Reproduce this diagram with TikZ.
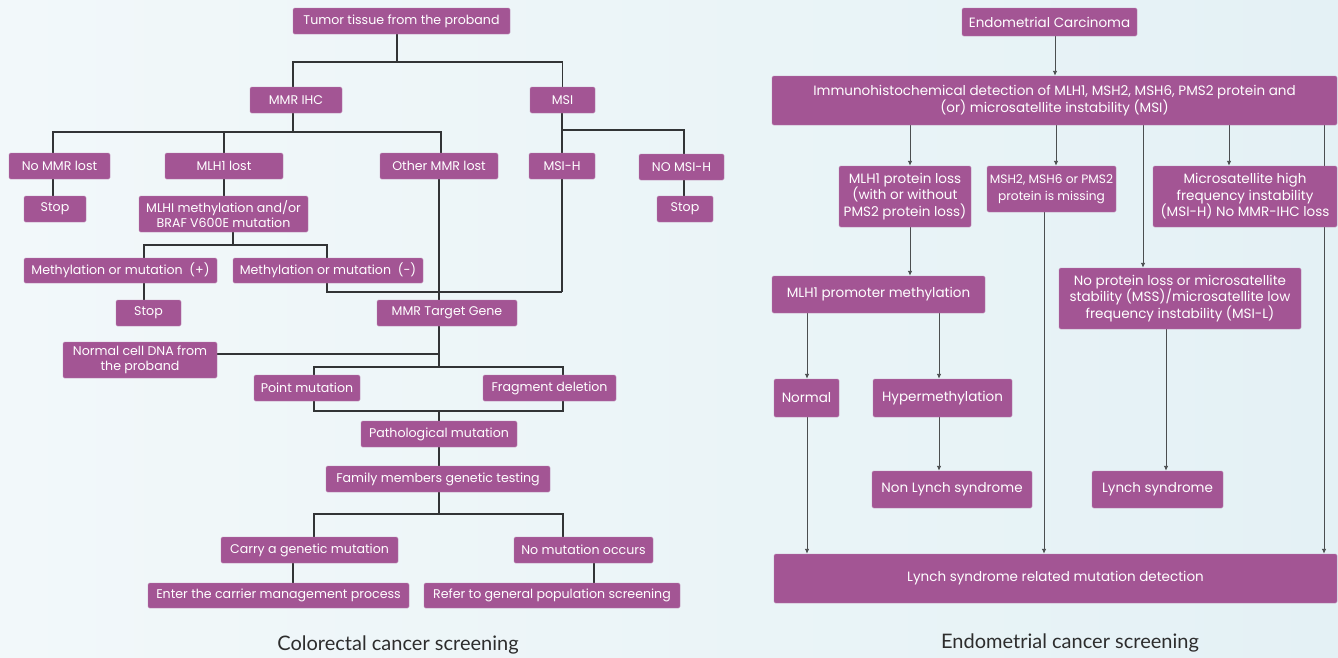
\documentclass[tikz,border=0pt]{standalone}
\usepackage{fontspec}
\setmainfont{Poppins}
\newfontfamily\capfont{Lato}
\usetikzlibrary{arrows.meta}
\definecolor{boxc}{RGB}{163,85,148}
\definecolor{lnc}{RGB}{50,52,54}
\definecolor{arc}{RGB}{75,78,80}
\definecolor{bga}{RGB}{242,248,250}
\definecolor{bgb}{RGB}{228,241,245}
\definecolor{capc}{RGB}{45,45,45}
\pgfdeclarelayer{back}
\pgfdeclarelayer{lines}
\pgfsetlayers{back,lines,main}
\newcommand{\mkbox}[7][box]{\node[#1,minimum width=#5pt,minimum height=#6pt] (#2) at (#3,#4) {#7};}
\begin{document}
\begin{tikzpicture}[x=1pt,y=-1pt,
  box/.style={fill=boxc, draw=boxc!75!white, line width=0.4pt, rounded corners=1.5pt, text=white, inner sep=1pt, align=center, font=\fontsize{12.6}{15}\selectfont},
  rbox/.style={box, font=\fontsize{13.5}{16.5}\selectfont},
  ln/.style={draw=lnc, line width=1.3pt},
  ar/.style={draw=arc, line width=0.9pt, -{Latex[length=5pt,width=4.5pt]}},
  captxt/.style={font=\capfont\fontsize{20}{23}\selectfont, text=capc}]
\useasboundingbox (0,0) rectangle (1338,657);
\begin{pgfonlayer}{back}
\shade[left color=bga, right color=bgb] (0,0) rectangle (1338,657);
\end{pgfonlayer}
% ---------- left: colorectal ----------
\mkbox{tumor}{401.5}{21}{217}{26}{Tumor tissue from the proband}
\mkbox{mmr}{296}{100}{92}{26}{MMR IHC}
\mkbox{msi}{562.5}{100}{65}{26}{MSI}
\mkbox{nommr}{59.5}{166}{101}{26}{No MMR lost}
\mkbox{mlh1}{224}{166}{118}{26}{MLH1 lost}
\mkbox{other}{439}{166}{118}{26}{Other MMR lost}
\mkbox{msih}{562}{166}{66}{26}{MSI-H}
\mkbox{nomsih}{681.5}{167}{85}{26}{NO MSI-H}
\mkbox{stop1}{55}{209}{62}{26}{Stop}
\mkbox{stop2}{685}{209}{56}{26}{Stop}
\mkbox{mlhi}{223.5}{214}{169}{36}{MLHI methylation and/or\\BRAF V600E mutation}
\mkbox{methp}{120.5}{270.5}{193}{25}{Methylation or mutation\ \ (+)}
\mkbox{methm}{328}{270.5}{190}{25}{Methylation or mutation\ \ (-)}
\mkbox{stop3}{148.5}{313}{65}{26}{Stop}
\mkbox{target}{447}{313}{140}{26}{MMR Target Gene}
\mkbox{normal}{140}{360}{154}{36}{Normal cell DNA from\\the proband}
\mkbox{point}{307}{388}{106}{26}{Point mutation}
\mkbox{frag}{549.5}{388}{133}{26}{Fragment deletion}
\mkbox{patho}{439}{434}{156}{26}{Pathological mutation}
\mkbox{family}{438}{479}{224}{26}{Family members genetic testing}
\mkbox{carry}{309.5}{550}{177}{26}{Carry a genetic mutation}
\mkbox{nomut}{583.5}{550}{139}{26}{No mutation occurs}
\mkbox{enter}{278.5}{595.5}{261}{25}{Enter the carrier management process}
\mkbox{refer}{552}{595.5}{256}{25}{Refer to general population screening}
\node[captxt] (cap1) at (398,645) {Colorectal cancer screening};
% ---------- right: endometrial ----------
\mkbox[rbox]{ec}{1049.5}{22}{175}{28}{Endometrial Carcinoma}
\mkbox[rbox]{imm}{1054.5}{100.5}{565}{49}{Immunohistochemical detection of MLH1, MSH2, MSH6, PMS2 protein and\\(or) microsatellite instability (MSI)}
\mkbox[rbox]{mlhp}{905}{196.5}{132}{61}{MLH1 protein loss\\(with or without\\PMS2 protein loss)}
\mkbox[rbox]{msh2}{1051.5}{189}{129}{46}{\fontsize{12.2}{15}\selectfont MSH2, MSH6 or PMS2\\\fontsize{12.2}{15}\selectfont protein is missing}
\mkbox[rbox]{msih2}{1245}{196.5}{184}{61}{Microsatellite high\\frequency instability\\(MSI-H) No MMR-IHC loss}
\mkbox[rbox]{promo}{878.5}{294.5}{213}{37}{MLH1 promoter methylation}
\mkbox[rbox]{noprot}{1180}{298.5}{242}{61}{No protein loss or microsatellite\\stability (MSS)/microsatellite low\\frequency instability (MSI-L)}
\mkbox[rbox]{normal2}{806.5}{398}{65}{38}{Normal}
\mkbox[rbox]{hyper}{942.5}{398}{139}{38}{Hypermethylation}
\mkbox[rbox]{nonly}{952}{489.5}{160}{37}{Non Lynch syndrome}
\mkbox[rbox]{lynch}{1157.5}{489.5}{131}{37}{Lynch syndrome}
\mkbox[rbox]{lrel}{1055.5}{578.5}{563}{49}{Lynch syndrome related mutation detection}
\node[captxt] (cap2) at (1070,643) {Endometrial cancer screening};
% ---------- junction coordinates ----------
\coordinate (j1) at (397,62);
\coordinate (j2) at (293,132);
\coordinate (j2l) at (53,132);
\coordinate (j2m) at (224,132);
\coordinate (j2r) at (441,132);
\coordinate (j3) at (562,130);
\coordinate (j3r) at (684,130);
\coordinate (j4) at (233,245);
\coordinate (j4l) at (144,245);
\coordinate (j4r) at (327,245);
\coordinate (j5) at (562,292);
\coordinate (xo) at (439,0);
\coordinate (j6) at (439,367);
\coordinate (j6n) at (439,354);
\coordinate (j6l) at (314,367);
\coordinate (j6r) at (563,367);
\coordinate (j7) at (439,411);
\coordinate (j7l) at (314,411);
\coordinate (j7r) at (563,411);
\coordinate (j8) at (439,514);
\coordinate (j8l) at (314,514);
\coordinate (j8r) at (563,514);
\coordinate (xc) at (293,0);
\coordinate (xn) at (594,0);
\coordinate (x1) at (1055,0);
\coordinate (x2) at (910,0);
\coordinate (x3) at (1056,0);
\coordinate (x4) at (1143,0);
\coordinate (x5) at (1229,0);
\coordinate (x6) at (1324,0);
\coordinate (x7) at (1044,0);
\coordinate (x8) at (807,0);
\coordinate (x9) at (939,0);
\coordinate (x10) at (1166,0);
\begin{pgfonlayer}{lines}
\draw[ln] (tumor.south -| j1) -- (j1);
\draw[ln] (mmr.north -| j2) |- (j1) -| (msi.north);
\draw[ln] (mmr.south -| j2) -- (j2);
\draw[ln] (nommr.north -| j2l) -- (j2l) -- (j2r) -- (other.north -| j2r);
\draw[ln] (j2m) -- (mlh1.north -| j2m);
\draw[ln] (msi.south -| j3) -- (msih.north -| j3);
\draw[ln] (j3) -- (j3r) -- (nomsih.north -| j3r);
\draw[ln] (nommr.south -| j2l) -- (stop1.north -| j2l);
\draw[ln] (nomsih.south -| j3r) -- (stop2.north -| j3r);
\draw[ln] (mlh1.south -| j2m) -- (mlhi.north -| j2m);
\draw[ln] (mlhi.south -| j4) -- (j4);
\draw[ln] (methp.north -| j4l) -- (j4l) -- (j4r) -- (methm.north -| j4r);
\draw[ln] (methp.south -| j4l) -- (stop3.north -| j4l);
\draw[ln] (methm.south -| j4r) |- (j5);
\draw[ln] (msih.south -| j5) -- (j5);
\draw[ln] (other.south -| xo) -- (target.north -| xo);
\draw[ln] (target.south -| xo) -- (j6);
\draw[ln] (normal.east |- j6n) -- (j6n);
\draw[ln] (point.north -| j6l) -- (j6l) -- (j6r) -- (frag.north -| j6r);
\draw[ln] (point.south -| j7l) -- (j7l) -- (j7r) -- (frag.south -| j7r);
\draw[ln] (j7) -- (patho.north -| j7);
\draw[ln] (patho.south -| j7) -- (family.north -| j7);
\draw[ln] (family.south -| j8) -- (j8);
\draw[ln] (carry.north -| j8l) -- (j8l) -- (j8r) -- (nomut.north -| j8r);
\draw[ln] (carry.south -| xc) -- (enter.north -| xc);
\draw[ln] (nomut.south -| xn) -- (refer.north -| xn);
% right arrows
\draw[ar] (ec.south -| x1) -- (imm.north -| x1);
\draw[ar] (imm.south -| x2) -- (mlhp.north -| x2);
\draw[ar] (imm.south -| x3) -- (msh2.north -| x3);
\draw[ar] (imm.south -| x4) -- (noprot.north -| x4);
\draw[ar] (imm.south -| x5) -- (msih2.north -| x5);
\draw[ar] (imm.south -| x6) -- (lrel.north -| x6);
\draw[ar] (mlhp.south -| x2) -- (promo.north -| x2);
\draw[ar] (msh2.south -| x7) -- (lrel.north -| x7);
\draw[ar] (promo.south -| x8) -- (normal2.north -| x8);
\draw[ar] (promo.south -| x9) -- (hyper.north -| x9);
\draw[ar] (normal2.south -| x8) -- (lrel.north -| x8);
\draw[ar] (hyper.south -| x9) -- (nonly.north -| x9);
\draw[ar] (noprot.south -| x10) -- (lynch.north -| x10);
\end{pgfonlayer}
\end{tikzpicture}
\end{document}
